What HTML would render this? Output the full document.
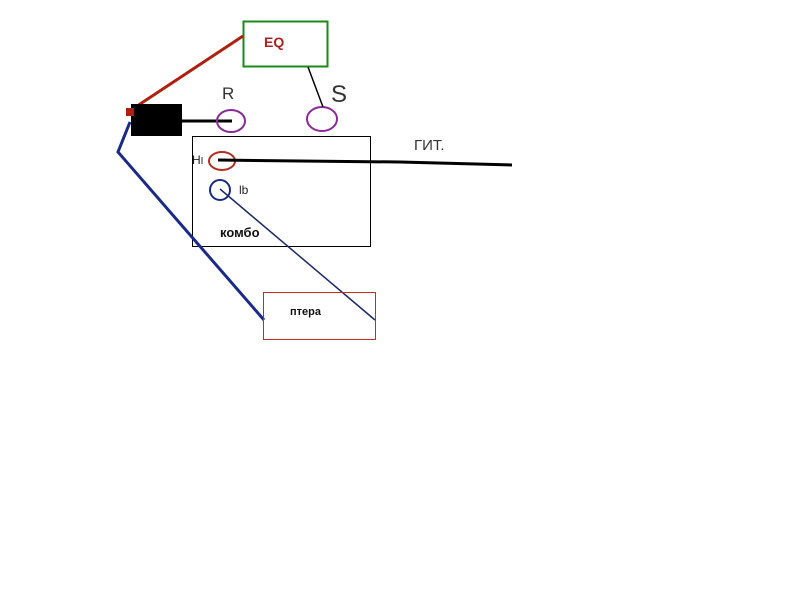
<!DOCTYPE html><html><head><style>body{margin:0;background:#fff}</style></head><body>
<svg width="800" height="600" xmlns="http://www.w3.org/2000/svg" font-family="Liberation Sans, sans-serif">
<rect width="800" height="600" fill="#fff"/>
<rect x="243.5" y="21.5" width="84" height="45" fill="none" stroke="#1a8a1a" stroke-width="2"/>
<text x="264" y="47" font-size="14" font-weight="bold" fill="#b02020">EQ</text>
<line x1="128" y1="112" x2="243" y2="36" stroke="#b02010" stroke-width="3"/>
<rect x="131" y="104" width="51" height="32" fill="#000"/>
<rect x="126" y="108" width="8" height="8" fill="#b02010"/>
<line x1="182" y1="121" x2="232" y2="121" stroke="#000" stroke-width="3"/>
<ellipse cx="231" cy="121" rx="14" ry="11" fill="none" stroke="#8a2a9a" stroke-width="2"/>
<ellipse cx="322" cy="119" rx="15" ry="12" fill="none" stroke="#8a2a9a" stroke-width="2"/>
<line x1="308" y1="67" x2="323" y2="107" stroke="#000" stroke-width="1.5"/>
<text x="222" y="99" font-size="17" fill="#333">R</text>
<text x="331" y="102" font-size="24" fill="#333">S</text>
<rect x="192.5" y="136.5" width="178" height="110" fill="none" stroke="#000" stroke-width="1"/>
<text x="192" y="164" font-size="12" fill="#222">H<tspan font-size="10">I</tspan></text>
<ellipse cx="222" cy="161" rx="13" ry="9" fill="none" stroke="#b03020" stroke-width="2"/>
<polyline points="218,160 300,161 400,162 512,165" fill="none" stroke="#000" stroke-width="3"/>
<circle cx="220" cy="190" r="10" fill="none" stroke="#1a2a8a" stroke-width="2"/>
<text x="239" y="194" font-size="12" fill="#222">lb</text>
<line x1="220" y1="189" x2="375" y2="320" stroke="#1a2a6a" stroke-width="1.5"/>
<text x="220" y="237" font-size="13" font-weight="bold" fill="#111">комбо</text>
<polyline points="130,122 118,152 264,320" fill="none" stroke="#1a2a8a" stroke-width="3"/>
<rect x="263.5" y="292.5" width="112" height="47" fill="none" stroke="#c03020" stroke-width="1"/>
<text x="290" y="315" font-size="11" font-weight="bold" fill="#111">птера</text>
<text x="414" y="150" font-size="15" fill="#333">ГИТ.</text>
</svg>
</body></html>
